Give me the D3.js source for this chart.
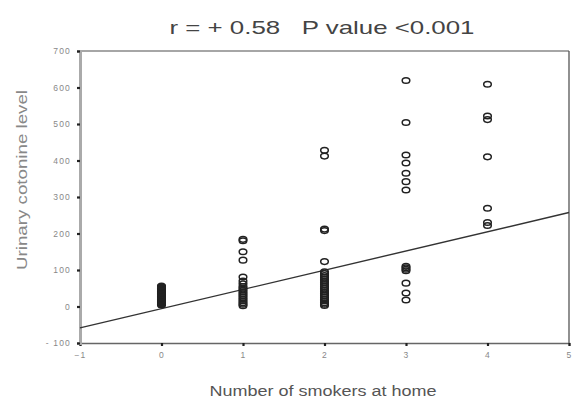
<!DOCTYPE html>
<html><head><meta charset="utf-8">
<script src="https://cdn.jsdelivr.net/npm/d3@7"></script>
<style>body{margin:0;background:#fff}svg{display:block}</style>
</head><body>
<svg id="c" width="573" height="400"></svg>
<script>
const title = "r = + 0.58   P value <0.001";
const xLabel = "Number of smokers at home";
const yLabel = "Urinary cotonine level";
const xTicks = [-1,0,1,2,3,4,5];
const yTicks = [-100,0,100,200,300,400,500,600,700];
// values per number of smokers
const smokers0 = [4,6,8,10,12,14,16,18,20,22,24,26,28,30,32,34,36,38,40,42,44,46,48,50,52,54,56];
const smokers1 = [184,180,150,127,81,70,62,55,50,45,40,35,30,25,20,15,10,6,2];
const smokers2 = [428,412,212,208,123,95,90,85,80,75,70,65,60,55,50,45,40,35,30,25,20,15,10,6,3];
const smokers3 = [619,504,415,393,365,342,319,110,106,102,98,64,37,18];
const smokers4 = [609,522,512,410,269,230,222];
const groups = [smokers0,smokers1,smokers2,smokers3,smokers4];
const fitIntercept = -6, fitSlope = 52.7;

const svg = d3.select("#c");
const L=80,R=569,T=51,B=343;
const x = d3.scaleLinear().domain([-1,5]).range([L,R]);
const y = d3.scaleLinear().domain([-100,700]).range([B,T]);
const ff = "Liberation Sans, Arial, sans-serif";

// frame
svg.append("line").attr("x1",L).attr("x2",R).attr("y1",T).attr("y2",T).attr("stroke","#888").attr("stroke-width",1.3);
svg.append("line").attr("x1",R).attr("x2",R).attr("y1",T).attr("y2",B).attr("stroke","#555").attr("stroke-width",1.3);

const xa = svg.append("g").attr("transform",`translate(0,${B})`)
  .call(d3.axisBottom(x).tickValues(xTicks).tickSize(3).tickPadding(6).tickFormat(d3.format("d")));
const ya = svg.append("g").attr("transform",`translate(${L},0)`)
  .call(d3.axisLeft(y).tickValues(yTicks).tickSize(3).tickPadding(6).tickFormat(d=> d<0 ? "- "+(-d) : d));
xa.select(".domain").attr("stroke","#666").attr("stroke-width",1.6);
ya.select(".domain").attr("stroke","#aaa").attr("stroke-width",3);
[xa,ya].forEach(a=>{
  a.selectAll(".tick line").attr("stroke","#222").attr("stroke-width",2.2);
  a.selectAll(".tick text").attr("fill","#888").attr("font-family",ff).attr("font-size",8.5).attr("letter-spacing",1.2);
});

// regression line
svg.append("line")
  .attr("x1",x(-1)).attr("y1",y(fitIntercept+fitSlope*-1))
  .attr("x2",x(5)).attr("y2",y(fitIntercept+fitSlope*5))
  .attr("stroke","#333").attr("stroke-width",1.4);

// points
const pts = [];
groups.forEach((g,i)=>g.forEach(v=>pts.push({n:i,v})));
svg.append("g").selectAll("ellipse").data(pts).join("ellipse")
  .attr("cx",d=>x(d.n)).attr("cy",d=>y(d.v))
  .attr("rx",3.8).attr("ry",2.8)
  .attr("fill","none").attr("stroke","#222").attr("stroke-width",1.5);

svg.append("text").attr("x",322).attr("y",34).attr("text-anchor","middle")
  .attr("font-family",ff).attr("font-size",19).attr("fill","#444").attr("xml:space","preserve")
  .attr("textLength",305).attr("lengthAdjust","spacingAndGlyphs").text(title);
svg.append("text").attr("x",323).attr("y",396).attr("text-anchor","middle")
  .attr("font-family",ff).attr("font-size",14).attr("fill","#555")
  .attr("textLength",227).attr("lengthAdjust","spacingAndGlyphs").text(xLabel);
svg.append("text").attr("transform","translate(27,180) rotate(-90)").attr("text-anchor","middle")
  .attr("font-family",ff).attr("font-size",14).attr("fill","#888")
  .attr("textLength",180).attr("lengthAdjust","spacingAndGlyphs").text(yLabel);
</script>
</body></html>
